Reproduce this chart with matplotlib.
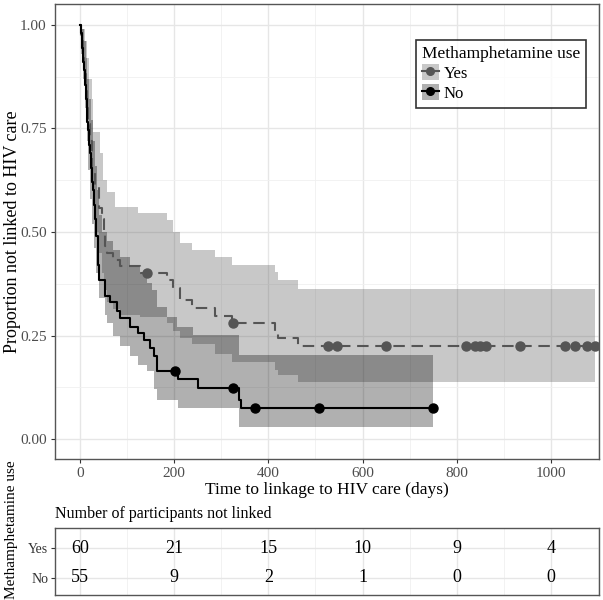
import numpy as np
import matplotlib
matplotlib.use("Agg")
import matplotlib.pyplot as plt
from matplotlib.patches import Patch
from matplotlib.lines import Line2D

plt.rcParams['font.family'] = ['Liberation Serif', 'DejaVu Serif']

# ---------------- data ----------------
groups = ["Yes", "No"]

yes_t = [0, 3, 6, 9, 12, 15, 18, 21, 25, 32, 40, 46, 50, 53, 57, 71, 85, 127, 184, 198, 212, 237, 287, 322, 414, 420, 463]
yes_s = [1.0, 0.96, 0.92, 0.88, 0.84, 0.80, 0.76, 0.72, 0.65, 0.61, 0.557, 0.53, 0.50, 0.467, 0.45, 0.433, 0.417, 0.40,
         0.383, 0.364, 0.336, 0.316, 0.297, 0.28, 0.259, 0.244, 0.225]
yes_end = 1093
yes_cens = [142, 325, 527, 546, 650, 820, 839, 849, 862, 934, 1030, 1051, 1076, 1093]

yes_up_t = [0, 5, 10, 15, 20, 25, 28, 42, 49, 57, 74, 124, 184, 198, 212, 237, 287, 322, 414, 420, 463]
yes_up_s = [1.0, 0.99, 0.96, 0.92, 0.87, 0.82, 0.74, 0.69, 0.626, 0.597, 0.56, 0.546, 0.529, 0.50, 0.474, 0.457,
            0.44, 0.42, 0.404, 0.384, 0.362]
yes_lo_t = [0, 5, 10, 15, 20, 25, 30, 35, 40, 46, 50, 57, 71, 85, 127, 184, 198, 212, 237, 287, 322, 414, 420, 463]
yes_lo_s = [1.0, 0.92, 0.84, 0.77, 0.70, 0.62, 0.56, 0.50, 0.45, 0.40, 0.36, 0.33, 0.315, 0.30, 0.295, 0.28, 0.26,
            0.245, 0.23, 0.205, 0.185, 0.167, 0.155, 0.138]

no_t = [0, 2, 4, 6, 8, 10, 12, 14, 16, 18, 20, 22, 24, 26, 28, 30, 32, 35, 38, 41, 53, 64, 78, 85, 106, 124, 136,
        149, 157, 164, 208, 251, 338, 342]
no_s = [1.0, 0.98, 0.945, 0.91, 0.89, 0.855, 0.82, 0.80, 0.765, 0.745, 0.71, 0.69, 0.655, 0.62, 0.60, 0.565, 0.53,
        0.49, 0.42, 0.384, 0.346, 0.33, 0.309, 0.292, 0.271, 0.256, 0.239, 0.219, 0.20, 0.164, 0.145, 0.123, 0.094, 0.074]
no_end = 750
no_cens = [202, 325, 372, 507, 750]

no_up_t = [0, 4, 8, 12, 16, 20, 24, 28, 32, 36, 41, 46, 57, 71, 85, 106, 127, 142, 152, 163, 184, 205, 240, 338]
no_up_s = [1.0, 0.99, 0.96, 0.92, 0.87, 0.82, 0.77, 0.72, 0.66, 0.60, 0.54, 0.50, 0.477, 0.456, 0.44, 0.42, 0.40,
           0.376, 0.36, 0.32, 0.295, 0.271, 0.251, 0.203]
no_lo_t = [0, 3, 6, 10, 14, 18, 22, 26, 30, 35, 41, 53, 57, 71, 85, 106, 124, 142, 157, 163, 208, 338]
no_lo_s = [1.0, 0.93, 0.87, 0.80, 0.72, 0.65, 0.58, 0.52, 0.46, 0.40, 0.34, 0.30, 0.28, 0.25, 0.225, 0.20, 0.18,
           0.165, 0.12, 0.094, 0.075, 0.03]

risk_times = [0, 200, 400, 600, 800, 1000]
risk_yes = [60, 21, 15, 10, 9, 4]
risk_no = [55, 9, 2, 1, 0, 0]

# ---------------- helpers ----------------
def stepval(t, s, x):
    idx = np.searchsorted(np.asarray(t), np.asarray(x), side='right') - 1
    return np.asarray(s)[np.clip(idx, 0, len(s) - 1)]

def band(ax, lo_t, lo_s, up_t, up_s, end, color, alpha):
    grid = np.unique(np.concatenate([lo_t, up_t, [end]]))
    lo = stepval(lo_t, lo_s, grid)
    up = stepval(up_t, up_s, grid)
    ax.fill_between(grid, lo, up, step='post', color=color, alpha=alpha, linewidth=0)

def curve(ax, t, s, end, cens, color, ls):
    tt = list(t) + [end]
    ss = list(s) + [s[-1]]
    ax.step(tt, ss, where='post', color=color, lw=1.5, linestyle=ls, zorder=4)
    ax.plot(cens, stepval(t, s, cens), 'o', color=color, ms=6.5, zorder=5, linestyle='none')

# ---------------- figure ----------------
fig = plt.figure(figsize=(6.03, 6.0), dpi=100)
ax = fig.add_axes([55/603, 1 - 459/600, 544/603, 455/600])

yes_col = '#555555'
no_col = '#000000'
band(ax, yes_lo_t, yes_lo_s, yes_up_t, yes_up_s, yes_end, '#555555', 0.32)
band(ax, no_lo_t, no_lo_s, no_up_t, no_up_s, no_end, '#000000', 0.31)
curve(ax, yes_t, yes_s, yes_end, yes_cens, yes_col, (0, (5.5, 3.2)))
curve(ax, no_t, no_s, no_end, no_cens, no_col, '-')

ax.set_xlim(-53, 1102)
ax.set_ylim(-0.048, 1.05)
ax.set_xticks(risk_times)
ax.set_xticks([100, 300, 500, 700, 900, 1100], minor=True)
ax.set_yticks([0, 0.25, 0.5, 0.75, 1.0])
ax.set_yticklabels(['0.00', '0.25', '0.50', '0.75', '1.00'])
ax.set_yticks([0.125, 0.375, 0.625, 0.875], minor=True)
ax.grid(True, which='major', color='#e6e6e6', lw=1.0, zorder=0)
ax.grid(True, which='minor', color='#f0f0f0', lw=0.6, zorder=0)
ax.set_axisbelow(True)
ax.tick_params(axis='both', which='major', labelsize=11, color='#333333', length=3, labelcolor='#4d4d4d', pad=3)
ax.tick_params(axis='both', which='minor', length=0)
for sp in ax.spines.values():
    sp.set_color('#555555')
    sp.set_linewidth(1.0)
ax.set_xlabel('Time to linkage to HIV care (days)', fontsize=12.5, labelpad=1)
ax.set_ylabel('Proportion not linked to HIV care', fontsize=13)
ax.yaxis.set_label_coords(-0.062, 0.5)

h_yes = (Patch(facecolor='#555555', alpha=0.32, edgecolor='none'),
         Line2D([], [], color=yes_col, lw=1.5, marker='o', ms=5.5))
h_no = (Patch(facecolor='#000000', alpha=0.31, edgecolor='none'),
        Line2D([], [], color=no_col, lw=1.5, marker='o', ms=5.5))
leg = ax.legend([h_yes, h_no], groups, title='Methamphetamine use', loc='upper left',
                bbox_to_anchor=(0.664, 0.921), borderaxespad=0, fontsize=12, title_fontsize=12.5,
                frameon=True, fancybox=False, edgecolor='black', handlelength=1.0, handleheight=1.1,
                handletextpad=0.3, labelspacing=0.15, borderpad=0.35)
leg.get_frame().set_linewidth(1.2)
leg._legend_box.align = 'left'

# ---------------- risk table ----------------
tab = fig.add_axes([55/603, 1 - 595/600, 544/603, 67/600])
tab.set_xlim(-53, 1102)
tab.set_ylim(0.43, 2.67)
for xv, a, b in zip(risk_times, risk_yes, risk_no):
    tab.text(xv, 2, str(a), ha='center', va='center', fontsize=13)
    tab.text(xv, 1, str(b), ha='center', va='center', fontsize=13)
tab.set_xticks(risk_times)
tab.set_xticks([100, 300, 500, 700, 900, 1100], minor=True)
tab.set_yticks([2, 1])
tab.set_yticklabels(groups)
tab.grid(True, which='major', color='#e6e6e6', lw=1.0)
tab.grid(True, which='minor', axis='x', color='#f0f0f0', lw=0.6)
tab.set_axisbelow(True)
tab.tick_params(axis='x', which='both', length=0, labelbottom=False)
tab.tick_params(axis='y', labelsize=10, length=3, color='#333333', pad=2, labelcolor='#333333')
for sp in tab.spines.values():
    sp.set_color('#555555')
    sp.set_linewidth(1.0)
tab.set_title('Number of participants not linked', loc='left', fontsize=11.5, pad=7)
fig.text(12/603, 1 - 530/600, 'Methamphetamine use', rotation=90, ha='center', va='center', fontsize=11)

fig.savefig('out.png', dpi=100)
